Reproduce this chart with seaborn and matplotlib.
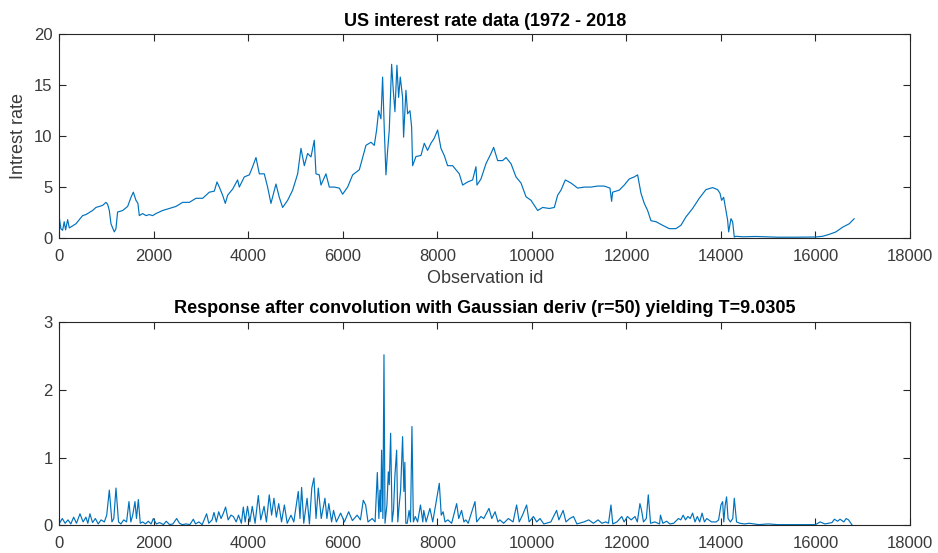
import matplotlib
matplotlib.use("Agg")
import matplotlib.pyplot as plt
import seaborn as sns
import pandas as pd

# Interest rate series: observation id and rate (%)
rate_ids = [0, 30, 67, 100, 130, 173, 208, 280, 349, 420, 490, 560, 631, 700, 772, 840, 913, 984,
            1020, 1055, 1090, 1160, 1195, 1230, 1337, 1443, 1514, 1563, 1619, 1660, 1690, 1760, 1831,
            1900, 1972, 2042, 2183, 2324, 2466, 2607, 2748, 2889, 3031, 3172, 3277, 3334, 3383, 3453,
            3510, 3559, 3665, 3770, 3806, 3912, 4018, 4088, 4159, 4200, 4230, 4335, 4405, 4476, 4582,
            4652, 4723, 4829, 4935, 5041, 5111, 5182, 5252, 5323, 5393, 5429, 5499, 5535, 5640, 5711,
            5817, 5923, 5993, 6099, 6205, 6346, 6487, 6593, 6663, 6712, 6755, 6804, 6839, 6875, 6910,
            6945, 6980, 7030, 7065, 7100, 7142, 7178, 7213, 7262, 7283, 7333, 7368, 7418, 7453, 7474,
            7545, 7650, 7721, 7791, 7862, 7932, 8003, 8074, 8144, 8215, 8321, 8391, 8462, 8533, 8638,
            8744, 8815, 8836, 8921, 9027, 9133, 9189, 9274, 9379, 9450, 9556, 9662, 9768, 9874, 9980,
            10050, 10121, 10226, 10367, 10473, 10544, 10614, 10706, 10826, 10967, 11108, 11249, 11390,
            11531, 11651, 11686, 11707, 11848, 11954, 12060, 12166, 12236, 12307, 12377, 12448, 12518,
            12624, 12765, 12906, 13047, 13153, 13259, 13400, 13541, 13682, 13823, 13929, 13979, 14014,
            14057, 14106, 14141, 14163, 14212, 14247, 14282, 14318, 14459, 14741, 14953, 15200, 15600,
            16010, 16151, 16292, 16433, 16574, 16715, 16821]
rate_vals = [1.9, 0.9, 0.76, 1.6, 0.8, 1.8, 0.99, 1.2, 1.4, 1.8, 2.2, 2.3, 2.5, 2.7, 3.0, 3.1, 3.2, 3.5,
             3.3, 2.7, 1.4, 0.6, 0.9, 2.55, 2.7, 3.1, 4.0, 4.5, 3.7, 3.4, 2.2, 2.4, 2.2,
             2.3, 2.2, 2.4, 2.7, 2.9, 3.1, 3.5, 3.5, 3.9, 3.9, 4.5, 4.6, 5.5, 5.0, 4.2,
             3.4, 4.2, 4.8, 5.7, 5.0, 6.0, 6.2, 7.0, 7.9, 7.0, 6.3, 6.3, 5.0, 3.4, 5.3,
             4.0, 3.0, 3.7, 4.7, 6.3, 8.8, 7.1, 8.3, 7.96, 9.6, 6.3, 6.2, 5.2, 6.3, 5.0,
             5.0, 4.9, 4.3, 5.0, 6.2, 6.7, 9.1, 9.4, 9.1, 10.6, 12.5, 11.7, 15.8, 10.6, 6.2,
             8.6, 10.6, 17.05, 14.5, 12.4, 16.96, 13.8, 15.8, 13.8, 9.9, 14.5, 12.2, 12.5, 10.9, 7.1,
             8.0, 8.1, 9.3, 8.6, 9.3, 9.8, 10.6, 8.8, 8.1, 7.1, 7.1, 6.7, 6.3, 5.2, 5.5,
             5.7, 7.0, 5.2, 5.8, 7.3, 8.3, 8.9, 7.6, 7.6, 7.9, 7.3, 6.0, 5.4, 4.05, 3.7,
             3.2, 2.7, 3.0, 2.9, 3.0, 4.2, 4.7, 5.7, 5.4, 4.9, 5.0, 5.0, 5.1,
             5.1, 4.9, 3.6, 4.5, 4.7, 5.2, 5.8, 6.0, 6.2, 4.4, 3.4, 2.7, 1.7,
             1.6, 1.25, 0.92, 0.92, 1.25, 2.07, 2.9, 3.9, 4.75, 4.95, 4.75, 4.4, 3.7,
             4.0, 2.7, 1.75, 0.6, 1.9, 1.6, 0.1, 0.17, 0.12, 0.15, 0.12, 0.08, 0.08,
             0.1, 0.17, 0.36, 0.6, 1.06, 1.4, 1.9]

# Filter response: observation id and magnitude
resp_ids = [0, 60, 120, 180, 240, 300, 360, 434, 500, 560, 600, 645, 700, 760, 820, 880, 950, 1000,
            1055, 1110, 1150, 1196, 1250, 1300, 1360, 1420, 1471, 1510, 1550, 1598, 1630, 1669, 1710,
            1760, 1820, 1880, 1940, 1986, 2050, 2120, 2200, 2260, 2330, 2400, 2480, 2540, 2600, 2680,
            2760, 2833, 2880, 2950, 3020, 3114, 3160, 3230, 3270, 3320, 3370, 3420, 3470, 3516, 3570,
            3630, 3680, 3740, 3790, 3850, 3891, 3930, 3980, 4030, 4080, 4140, 4208, 4260, 4330, 4380,
            4440, 4490, 4539, 4590, 4640, 4700, 4760, 4820, 4900, 4960, 5054, 5090, 5125, 5170, 5240,
            5290, 5340, 5386, 5430, 5478, 5540, 5619, 5660, 5700, 5760, 5800, 5860, 5950, 6030, 6120,
            6200, 6300, 6370, 6430, 6480, 6530, 6620, 6680, 6727, 6760, 6783, 6800, 6818, 6845, 6868,
            6890, 6930, 6960, 6980, 7009, 7040, 7070, 7100, 7136, 7160, 7190, 7220, 7262, 7290, 7310,
            7330, 7360, 7400, 7430, 7460, 7490, 7530, 7580, 7640, 7690, 7710, 7760, 7840, 7900, 8039,
            8080, 8120, 8160, 8220, 8300, 8406, 8450, 8510, 8560, 8600, 8650, 8794, 8830, 8920, 8980,
            9090, 9150, 9220, 9280, 9320, 9400, 9500, 9600, 9675, 9730, 9800, 9887, 9940, 10030, 10100,
            10170, 10250, 10400, 10521, 10570, 10660, 10720, 10800, 10880, 10950, 11100, 11200, 11300,
            11400, 11480, 11560, 11620, 11672, 11710, 11800, 11900, 11950, 12020, 12100, 12180, 12230,
            12285, 12320, 12360, 12420, 12462, 12510, 12600, 12700, 12720, 12770, 12850, 12920, 13000,
            13100, 13150, 13200, 13250, 13300, 13350, 13400, 13450, 13500, 13550, 13600, 13650, 13700,
            13800, 13900, 13950, 14000, 14036, 14060, 14090, 14119, 14150, 14200, 14250, 14282, 14330,
            14400, 14500, 14600, 14800, 15000, 15200, 15600, 16000, 16100, 16200, 16350, 16400, 16470,
            16520, 16600, 16650, 16700, 16780]
resp_vals = [0.03, 0.1, 0.03, 0.08, 0.02, 0.12, 0.03, 0.17, 0.05, 0.12, 0.03, 0.17, 0.04, 0.1, 0.02, 0.08, 0.05, 0.15,
             0.52, 0.05, 0.1, 0.55, 0.05, 0.02, 0.08, 0.05, 0.35, 0.05, 0.15, 0.35, 0.1, 0.38, 0.03,
             0.05, 0.02, 0.06, 0.02, 0.1, 0.02, 0.04, 0.01, 0.06, 0.01, 0.02, 0.1, 0.03, 0.01, 0.02,
             0.01, 0.09, 0.02, 0.05, 0.01, 0.17, 0.03, 0.08, 0.19, 0.05, 0.2, 0.1, 0.18, 0.27, 0.08,
             0.15, 0.13, 0.05, 0.15, 0.03, 0.27, 0.05, 0.28, 0.05, 0.28, 0.03, 0.44, 0.08, 0.28, 0.05,
             0.45, 0.15, 0.4, 0.12, 0.32, 0.05, 0.3, 0.03, 0.15, 0.05, 0.5, 0.1, 0.56, 0.03, 0.4,
             0.02, 0.55, 0.7, 0.1, 0.55, 0.1, 0.4, 0.1, 0.32, 0.05, 0.22, 0.05, 0.18, 0.05, 0.2,
             0.07, 0.15, 0.08, 0.37, 0.3, 0.05, 0.1, 0.05, 0.78, 0.1, 0.52, 0.2, 1.11, 0.1, 2.52,
             0.03, 0.3, 0.79, 0.6, 1.36, 0.05, 0.22, 0.74, 1.11, 0.05, 0.3, 0.52, 1.31, 0.5, 0.93,
             0.03, 0.03, 0.22, 0.05, 1.46, 0.05, 0.13, 0.05, 0.3, 0.05, 0.22, 0.05, 0.25, 0.05, 0.62,
             0.15, 0.2, 0.05, 0.08, 0.03, 0.32, 0.1, 0.22, 0.05, 0.08, 0.03, 0.35, 0.05, 0.13, 0.1,
             0.25, 0.1, 0.2, 0.05, 0.08, 0.03, 0.1, 0.05, 0.3, 0.05, 0.15, 0.3, 0.05, 0.13, 0.05,
             0.1, 0.02, 0.05, 0.22, 0.08, 0.22, 0.05, 0.1, 0.13, 0.02, 0.05, 0.08, 0.03,
             0.08, 0.03, 0.05, 0.03, 0.3, 0.02, 0.05, 0.13, 0.05, 0.13, 0.08, 0.13, 0.05,
             0.32, 0.22, 0.05, 0.1, 0.45, 0.03, 0.05, 0.02, 0.15, 0.03, 0.06, 0.02, 0.03,
             0.1, 0.08, 0.15, 0.08, 0.13, 0.1, 0.18, 0.05, 0.13, 0.05, 0.18, 0.05, 0.1,
             0.05, 0.05, 0.08, 0.3, 0.35, 0.05, 0.3, 0.42, 0.1, 0.05, 0.1, 0.4, 0.05,
             0.03, 0.02, 0.03, 0.01, 0.02, 0.01, 0.01, 0.01, 0.05, 0.02, 0.04, 0.09, 0.06,
             0.09, 0.05, 0.1, 0.08, 0.0]

x_ticks = list(range(0, 18001, 2000))
rate_ticks = [0, 5, 10, 15, 20]
resp_ticks = [0, 1, 2, 3]

line_color = "#0072BD"
axis_color = "#262626"
label_color = "#3a3a3a"

sns.set_style("white")
plt.rcParams["font.family"] = ["Liberation Sans", "DejaVu Sans"]

fig = plt.figure(figsize=(9.38, 5.53), dpi=100)
ax_top = fig.add_axes([0.0634, 0.5696, 0.9067, 0.3684])
ax_bot = fig.add_axes([0.0634, 0.0501, 0.9067, 0.3671])

rate_df = pd.DataFrame({"id": rate_ids, "rate": rate_vals})
resp_df = pd.DataFrame({"id": resp_ids, "resp": resp_vals})

sns.lineplot(data=rate_df, x="id", y="rate", ax=ax_top, color=line_color, linewidth=0.85,
             estimator=None, sort=False)
sns.lineplot(data=resp_df, x="id", y="resp", ax=ax_bot, color=line_color, linewidth=0.85,
             estimator=None, sort=False)


def style_axes(ax, yticks):
    ax.set_xlim(0, 18000)
    ax.set_ylim(yticks[0], yticks[-1])
    ax.set_xticks(x_ticks)
    ax.set_yticks(yticks)
    ax.set_xticklabels([str(v) for v in x_ticks])
    ax.set_yticklabels([str(v) for v in yticks])
    for sp in ax.spines.values():
        sp.set_visible(True)
        sp.set_color(axis_color)
        sp.set_linewidth(0.8)
    ax.tick_params(direction="in", length=5, width=0.8, color=axis_color,
                   labelcolor=label_color, labelsize=12, top=True, right=True,
                   bottom=True, left=True)
    ax.tick_params(axis="x", pad=8)
    ax.tick_params(axis="y", pad=5)
    ax.set_xlabel("")
    ax.set_ylabel("")


style_axes(ax_top, rate_ticks)
style_axes(ax_bot, resp_ticks)

ax_top.set_title("US interest rate data (1972 - 2018", fontsize=13, fontweight="bold",
                 color="black", pad=6)
ax_top.set_xlabel("Observation id", fontsize=13, color=label_color, labelpad=4)
ax_top.set_ylabel("Intrest rate", fontsize=13, color=label_color, labelpad=5)
ax_bot.set_title("Response after convolution with Gaussian deriv (r=50) yielding T=9.0305",
                 fontsize=13, fontweight="bold", color="black", pad=7)

fig.savefig("out.png", dpi=100, facecolor="white")
